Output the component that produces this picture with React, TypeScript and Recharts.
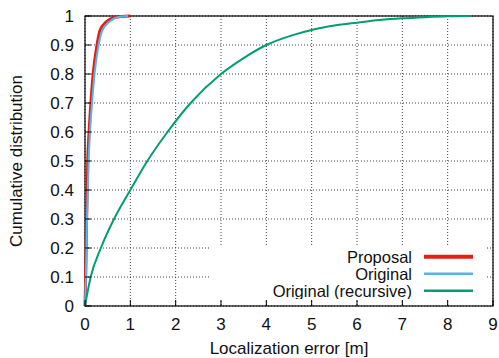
import React from 'react';
import { LineChart, Line, XAxis, YAxis, CartesianGrid } from 'recharts';

const cdfLevels = [0, 0.05, 0.1, 0.3, 0.5, 0.6, 0.7, 0.8, 0.9, 0.95, 0.98, 0.995, 1.0];
const proposalErr = [0, 0.008, 0.015, 0.035, 0.06, 0.09, 0.13, 0.18, 0.265, 0.33, 0.47, 0.65, 1.0];
const originalErr = [0, 0.01, 0.02, 0.044, 0.08, 0.11, 0.155, 0.21, 0.3, 0.38, 0.54, 0.7, 0.95];
const recursiveErr = [0, 0.04, 0.125, 0.35, 0.64, 1.0, 1.375, 1.82, 2.33, 3.0, 3.5, 4.0, 4.6, 5.0, 5.5, 6, 6.5, 7, 7.5, 8, 8.5];
const recursiveCdf = [0, 0.035, 0.1, 0.2, 0.3, 0.4, 0.5, 0.6, 0.7, 0.8, 0.855, 0.9, 0.935, 0.952, 0.967, 0.977, 0.986, 0.992, 0.996, 0.999, 1.0];

const xTicks = [0, 1, 2, 3, 4, 5, 6, 7, 8, 9];
const yTicks = [0, 0.1, 0.2, 0.3, 0.4, 0.5, 0.6, 0.7, 0.8, 0.9, 1];

const series = [
  { name: 'Proposal', color: '#e51e10', width: 3, legendWidth: 4 },
  { name: 'Original', color: '#56b4e9', width: 2, legendWidth: 2.5 },
  { name: 'Original (recursive)', color: '#009e73', width: 2, legendWidth: 2.5 },
];

const proposalData = proposalErr.map((x, i) => ({ x, y: cdfLevels[i] }));
const originalData = originalErr.map((x, i) => ({ x, y: cdfLevels[i] }));
const recursiveData = recursiveErr.map((x, i) => ({ x, y: recursiveCdf[i] }));

const FONT = '"Liberation Sans", Arial, Helvetica, sans-serif';
const FS = 17;
const LFS = 16.5;

const fmtY = (v: number) => (v === 0 || v === 1 ? String(v) : v.toFixed(1));

const BottomTick = (props: any) => {
  const { x, y, payload } = props;
  return (
    <g>
      <line x1={x} x2={x} y1={y} y2={y - 6} stroke="#000" strokeWidth={1} />
      <text x={x} y={y + 24} textAnchor="middle" fontSize={FS} fontFamily={FONT} fill="#111">
        {payload.value}
      </text>
    </g>
  );
};
const TopTick = (props: any) => {
  const { x, y } = props;
  return <line x1={x} x2={x} y1={y} y2={y + 6} stroke="#000" strokeWidth={1} />;
};
const LeftTick = (props: any) => {
  const { x, y, payload } = props;
  return (
    <g>
      <line x1={x} x2={x + 6} y1={y} y2={y} stroke="#000" strokeWidth={1} />
      <text x={x - 11} y={y + 6} textAnchor="end" fontSize={FS} fontFamily={FONT} fill="#111">
        {fmtY(payload.value)}
      </text>
    </g>
  );
};
const RightTick = (props: any) => {
  const { x, y } = props;
  return <line x1={x} x2={x - 6} y1={y} y2={y} stroke="#000" strokeWidth={1} />;
};

const LegendBox = () => (
  <svg width={278} height={52} style={{ position: 'absolute', left: 209, top: 247 }}>
    <rect x={0} y={0} width={278} height={52} fill="#fff" />
    {series.map((s, i) => (
      <g key={s.name}>
        <text
          x={203}
          y={16 + i * 17}
          textAnchor="end"
          fontSize={LFS}
          fontFamily={FONT}
          fill="#111"
        >
          {s.name}
        </text>
        <line
          x1={215}
          x2={264}
          y1={9.7 + i * 17}
          y2={9.7 + i * 17}
          stroke={s.color}
          strokeWidth={s.legendWidth}
        />
      </g>
    ))}
  </svg>
);

export default function App() {
  return (
    <div style={{ position: 'absolute', left: 0, top: 0, width: 499, height: 358, background: '#fff' }}>
      <LineChart width={499} height={358} margin={{ top: 16, right: 6, bottom: 0, left: 0 }}>
        <CartesianGrid xAxisId="b" yAxisId="l" stroke="#444" strokeDasharray="1 2" strokeWidth={1} />
        <XAxis
          xAxisId="b"
          type="number"
          dataKey="x"
          domain={[0, 9]}
          ticks={xTicks}
          orientation="bottom"
          height={52}
          tickSize={0}
          tickMargin={0}
          tickLine={false}
          axisLine={false}
          tick={<BottomTick />}
          interval={0}
        />
        <XAxis
          xAxisId="t"
          type="number"
          dataKey="x"
          domain={[0, 9]}
          ticks={xTicks}
          orientation="top"
          height={0}
          tickSize={0}
          tickMargin={0}
          tickLine={false}
          axisLine={false}
          tick={<TopTick />}
          interval={0}
        />
        <YAxis
          yAxisId="l"
          type="number"
          domain={[0, 1]}
          ticks={yTicks}
          orientation="left"
          width={85}
          tickSize={0}
          tickMargin={0}
          tickLine={false}
          axisLine={false}
          tick={<LeftTick />}
          interval={0}
        />
        <YAxis
          yAxisId="r"
          type="number"
          domain={[0, 1]}
          ticks={yTicks}
          orientation="right"
          width={0}
          tickSize={0}
          tickMargin={0}
          tickLine={false}
          axisLine={false}
          tick={<RightTick />}
          interval={0}
        />
        <Line
          xAxisId="b"
          yAxisId="l"
          data={proposalData}
          dataKey="y"
          name={series[0].name}
          stroke={series[0].color}
          strokeWidth={series[0].width}
          dot={false}
          type="monotone"
          isAnimationActive={false}
        />
        <Line
          xAxisId="b"
          yAxisId="l"
          data={originalData}
          dataKey="y"
          name={series[1].name}
          stroke={series[1].color}
          strokeWidth={series[1].width}
          dot={false}
          type="monotone"
          isAnimationActive={false}
        />
        <Line
          xAxisId="b"
          yAxisId="l"
          data={recursiveData}
          dataKey="y"
          name={series[2].name}
          stroke={series[2].color}
          strokeWidth={series[2].width}
          dot={false}
          type="monotone"
          isAnimationActive={false}
        />
        <rect x={85} y={16} width={408} height={290} fill="none" stroke="#000" strokeWidth={1.2} />
        <text x={289} y={354} textAnchor="middle" fontSize={FS} fontFamily={FONT} fill="#111">
          Localization error [m]
        </text>
        <text
          x={22}
          y={161}
          transform="rotate(-90 22 161)"
          textAnchor="middle"
          fontSize={FS}
          fontFamily={FONT}
          fill="#111"
        >
          Cumulative distribution
        </text>
      </LineChart>
      <LegendBox />
    </div>
  );
}
